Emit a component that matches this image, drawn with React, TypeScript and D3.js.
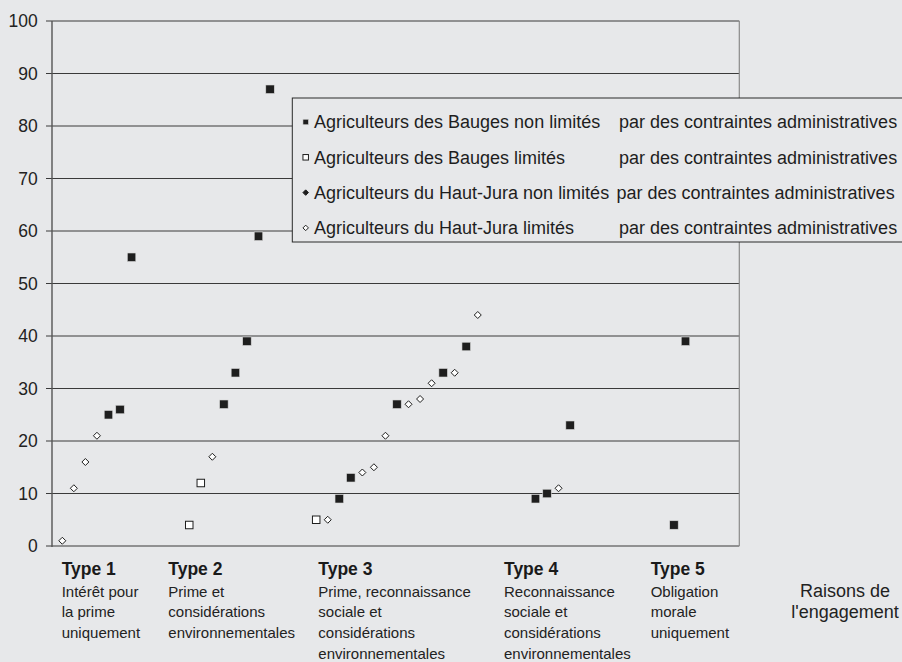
import React from "react";
import * as d3 from "d3";

// ---- data (x = rang de l'agriculteur sur l'axe, y = valeur) ----
const baugesNonLimitesX = [4, 5, 6, 14, 15, 16, 17, 18, 24, 25, 29, 33, 35, 41, 42, 44, 53, 54];
const baugesNonLimitesY = [25, 26, 55, 27, 33, 39, 59, 87, 9, 13, 27, 33, 38, 9, 10, 23, 4, 39];

const baugesLimitesX = [11, 12, 22];
const baugesLimitesY = [4, 12, 5];

const juraNonLimitesX: number[] = [];
const juraNonLimitesY: number[] = [];

const juraLimitesX = [0, 1, 2, 3, 13, 23, 26, 27, 28, 30, 31, 32, 34, 36, 43];
const juraLimitesY = [1, 11, 16, 21, 17, 5, 14, 15, 21, 27, 28, 31, 33, 44, 11];

const yTicks = [0, 10, 20, 30, 40, 50, 60, 70, 80, 90, 100];

const legendNames = [
  "Agriculteurs des Bauges non limités",
  "Agriculteurs des Bauges limités",
  "Agriculteurs du Haut-Jura non limités",
  "Agriculteurs du Haut-Jura limités",
];
const legendSuffix = "par des contraintes administratives";

const typeTitles = ["Type 1", "Type 2", "Type 3", "Type 4", "Type 5"];
const typeLines = [
  ["Intérêt pour", "la prime", "uniquement"],
  ["Prime et", "considérations", "environnementales"],
  ["Prime, reconnaissance", "sociale et", "considérations", "environnementales"],
  ["Reconnaissance", "sociale et", "considérations", "environnementales"],
  ["Obligation", "morale", "uniquement"],
];
const axisTitle = ["Raisons de", "l'engagement"];

// ---- layout ----
const W = 902;
const H = 662;
const plotLeft = 52;
const plotRight = 739.3;
const plotTop = 21;
const plotBottom = 546;
const typeLabelPx = [61.7, 168.3, 318.3, 504, 650.7];
const FONT = "'Liberation Sans', Arial, Helvetica, sans-serif";
const BG = "#e7e8ea";
const INK = "#1e1e1e";
const GRID = "#3a3a3a";

const x = d3.scaleLinear().domain([0, 54]).range([62.3, 685.5]);
const y = d3.scaleLinear().domain([0, 100]).range([plotBottom, plotTop]);

type Shape = "sqFill" | "sqOpen" | "diaFill" | "diaOpen";

function Marker({ cx, cy, shape, s }: { cx: number; cy: number; shape: Shape; s: number }) {
  if (shape === "sqFill" || shape === "sqOpen") {
    const fill = shape === "sqFill" ? INK : "#ffffff";
    return (
      <rect
        x={cx - s / 2}
        y={cy - s / 2}
        width={s}
        height={s}
        fill={fill}
        stroke={shape === "sqFill" ? "#d8d8d8" : INK}
        strokeWidth={shape === "sqFill" ? 0.6 : 1}
      />
    );
  }
  const h = s / 2;
  const d = `M${cx},${cy - h}L${cx + h},${cy}L${cx},${cy + h}L${cx - h},${cy}Z`;
  return <path d={d} fill={shape === "diaFill" ? INK : "#ffffff"} stroke={INK} strokeWidth={1} />;
}

const series: { xs: number[]; ys: number[]; shape: Shape; size: number }[] = [
  { xs: juraLimitesX, ys: juraLimitesY, shape: "diaOpen", size: 7 },
  { xs: juraNonLimitesX, ys: juraNonLimitesY, shape: "diaFill", size: 7 },
  { xs: baugesLimitesX, ys: baugesLimitesY, shape: "sqOpen", size: 7.5 },
  { xs: baugesNonLimitesX, ys: baugesNonLimitesY, shape: "sqFill", size: 8.5 },
];

const legendShapes: Shape[] = ["sqFill", "sqOpen", "diaFill", "diaOpen"];

export default function App() {
  const legTop = 98;
  const legRowY = (i: number) => 122 + i * 35.3;
  return (
    <svg
      width={W}
      height={H}
      style={{ position: "absolute", left: 0, top: 0, background: BG }}
      fontFamily={FONT}
    >
      <rect x={0} y={0} width={W} height={H} fill={BG} />
      {/* grid + ticks */}
      {yTicks.map((t) => (
        <g key={t}>
          <line x1={plotLeft - 6} x2={plotRight} y1={y(t)} y2={y(t)} stroke={GRID} strokeWidth={1} />
          <text
            x={37.7}
            y={y(t)}
            textAnchor="end"
            dominantBaseline="central"
            fontSize={17.5}
            fill="#222"
          >
            {t}
          </text>
        </g>
      ))}
      {/* right border */}
      <line x1={plotRight} x2={plotRight} y1={plotTop} y2={plotBottom} stroke="#8a8a8a" strokeWidth={1.2} />
      {/* left axis */}
      <line x1={plotLeft} x2={plotLeft} y1={plotTop} y2={plotBottom + 1} stroke="#555" strokeWidth={1.4} />

      {/* points */}
      {series.map((s, si) =>
        s.xs.map((xv, i) => (
          <Marker key={`${si}-${i}`} cx={x(xv)} cy={y(s.ys[i])} shape={s.shape} s={s.size} />
        ))
      )}

      {/* legend */}
      <rect x={292.3} y={legTop} width={640} height={144} fill={BG} stroke="#2a2a2a" strokeWidth={1} />
      {legendNames.map((n, i) => (
        <g key={n}>
          <Marker cx={305.7} cy={legRowY(i)} shape={legendShapes[i]} s={5.5} />
          <text x={314} y={legRowY(i) + 6.3} fontSize={18} fill="#1e1e1e">
            {n}
          </text>
          <text x={i === 2 ? 616.5 : 619} y={legRowY(i) + 6.3} fontSize={18} fill="#1e1e1e">
            {legendSuffix}
          </text>
        </g>
      ))}

      {/* type labels */}
      {typeTitles.map((t, i) => (
        <g key={t}>
          <text x={typeLabelPx[i]} y={575} fontSize={17.5} fontWeight="bold" fill="#1a1a1a">
            {t}
          </text>
          {typeLines[i].map((l, j) => (
            <text key={j} x={typeLabelPx[i]} y={596.5 + j * 20.8} fontSize={15} fill="#222">
              {l}
            </text>
          ))}
        </g>
      ))}
      {axisTitle.map((l, j) => (
        <text key={l} x={845} y={596.7 + j * 21.6} fontSize={18} textAnchor="middle" fill="#222">
          {l}
        </text>
      ))}
    </svg>
  );
}
